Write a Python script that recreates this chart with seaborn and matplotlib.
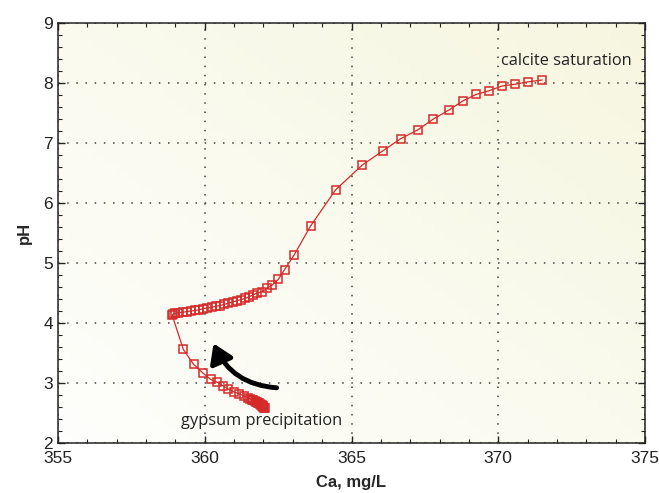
import numpy as np
import matplotlib
matplotlib.use("Agg")
import matplotlib.pyplot as plt
import seaborn as sns
import pandas as pd

# Path data (from gypsum precipitation end -> min Ca -> calcite saturation)
ca = [362.04, 362.02, 362.00, 361.98, 361.96, 361.94, 361.91, 361.88, 361.85,
      361.82, 361.78, 361.74, 361.70, 361.65, 361.60, 361.55,
      361.48, 361.34, 361.18, 361.00, 360.80, 360.63, 360.43, 360.20,
      359.95, 359.62, 359.27,
      358.89, 358.93, 358.99, 359.10, 359.25, 359.39, 359.53, 359.67, 359.81,
      359.95, 360.09, 360.24, 360.38, 360.52, 360.67, 360.80, 360.95, 361.09,
      361.24, 361.37, 361.52, 361.65, 361.79, 361.95, 362.12, 362.29, 362.51,
      362.72, 363.04, 363.61, 364.46, 365.36, 366.07, 366.67, 367.26, 367.79,
      368.32, 368.79, 369.25, 369.68, 370.13, 370.58, 371.02, 371.50]
ph = [2.58, 2.59, 2.60, 2.61, 2.62, 2.63, 2.64, 2.65, 2.66,
      2.67, 2.68, 2.69, 2.70, 2.71, 2.72, 2.74,
      2.75, 2.78, 2.82, 2.85, 2.90, 2.95, 3.01, 3.06,
      3.16, 3.31, 3.56,
      4.13, 4.15, 4.16, 4.17, 4.18, 4.19, 4.20, 4.21, 4.22,
      4.24, 4.25, 4.26, 4.28, 4.29, 4.31, 4.33, 4.35, 4.37,
      4.39, 4.41, 4.44, 4.47, 4.50, 4.52, 4.58, 4.63, 4.73,
      4.89, 5.13, 5.62, 6.22, 6.63, 6.87, 7.07, 7.22, 7.40,
      7.55, 7.70, 7.81, 7.87, 7.95, 7.98, 8.02, 8.05]

x_ticks = [355, 360, 365, 370, 375]
y_ticks = [2, 3, 4, 5, 6, 7, 8, 9]

df = pd.DataFrame({"Ca": ca, "pH": ph})

sns.set_style("ticks")
plt.rcParams['font.family'] = ['Liberation Sans', 'DejaVu Sans']

fig = plt.figure(figsize=(6.59, 4.93), dpi=100)
ax = fig.add_axes([58/659, 1-443/493, (645-58)/659, (443-23)/493])

# background gradient
gx, gy = np.meshgrid(np.linspace(0, 1, 50), np.linspace(0, 1, 50))
t = np.clip((gx + gy) / 2, 0, 1)
c0 = np.array([254, 254, 252]) / 255
c1 = np.array([246, 246, 224]) / 255
grad = c0[None, None, :] * (1 - t[..., None]) + c1[None, None, :] * t[..., None]
ax.imshow(grad, extent=[0, 1, 1, 0], transform=ax.transAxes, aspect='auto', zorder=-10)

red = '#d42a2a'
sns.lineplot(data=df, x="Ca", y="pH", sort=False, estimator=None, ax=ax, color=red, lw=0.9,
             marker='s', markersize=6, markerfacecolor='none',
             markeredgecolor=red, markeredgewidth=1.1, zorder=3)

ax.set_xlim(355, 375)
ax.set_ylim(2, 9)
ax.set_xticks(x_ticks)
ax.set_yticks(y_ticks)
ax.set_xticks(np.arange(355, 375.01, 1), minor=True)
ax.set_yticks(np.arange(2, 9.01, 0.2), minor=True)
ax.tick_params(which='both', direction='in', top=True, right=True, labelsize=12.5, colors='#222222')
ax.tick_params(which='major', length=5, width=1)
ax.tick_params(which='minor', length=3, width=0.8)
ax.tick_params(axis='x', which='major', pad=6)
for s in ax.spines.values():
    s.set_color('#222222')
    s.set_linewidth(1.1)

ax.grid(True, which='major', color='#444444', linestyle=(0, (1, 5)), linewidth=1.1)
ax.set_axisbelow(True)

ax.set_xlabel("Ca, mg/L", fontsize=12, fontweight='bold',
              family=['Liberation Sans Narrow', 'Liberation Sans'], labelpad=6)
ax.set_ylabel("pH", fontsize=12, fontweight='bold',
              family=['Liberation Sans Narrow', 'Liberation Sans'], labelpad=8)

ax.text(370.1, 8.36, "calcite saturation", fontsize=11.8, family=['Open Sans', 'DejaVu Sans'],
        color='#222222', va='center', ha='left')
ax.text(361.95, 2.37, "gypsum precipitation", fontsize=11.8, family=['Open Sans', 'DejaVu Sans'],
        color='#222222', va='center', ha='center')

ax.annotate('', xy=(360.3, 3.66), xytext=(362.45, 2.92),
            arrowprops=dict(arrowstyle='-|>,head_length=0.7,head_width=0.45', lw=3.5,
                            color='black', connectionstyle='arc3,rad=-0.3',
                            mutation_scale=16, shrinkA=0, shrinkB=0), zorder=4)

fig.savefig("out.png", dpi=100)
